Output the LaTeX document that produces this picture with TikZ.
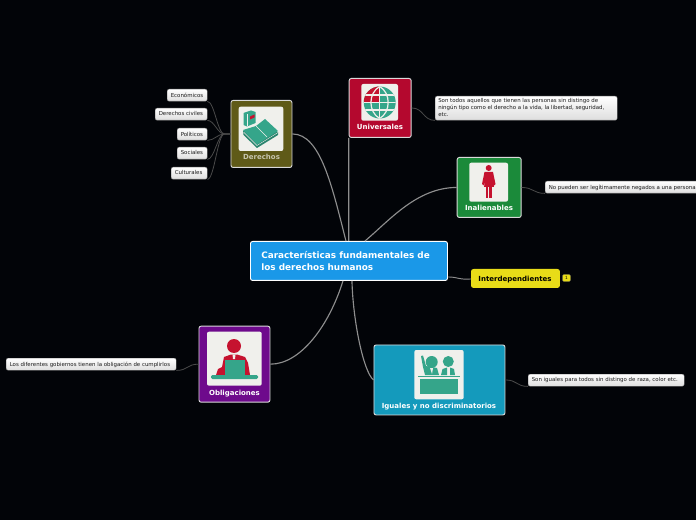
\documentclass[tikz,border=0pt]{standalone}
\usepackage{fontspec}
\setmainfont{DejaVu Sans}
\usetikzlibrary{calc}
\definecolor{bg}{HTML}{020408}
\definecolor{wire}{HTML}{8E8E8E}
\definecolor{wiredk}{HTML}{4A4A4A}
\definecolor{panel}{HTML}{F0F0EC}
\definecolor{teal}{HTML}{35A58A}
\definecolor{redi}{HTML}{C5122F}
\definecolor{cblue}{HTML}{1A98E8}
\definecolor{olive}{HTML}{5F5A18}
\definecolor{crim}{HTML}{B4082E}
\definecolor{grn}{HTML}{1B8A3A}
\definecolor{yel}{HTML}{E8DC18}
\definecolor{purp}{HTML}{6E0A8C}
\definecolor{cyanb}{HTML}{149ABC}
\tikzset{
 box/.style={draw=white!85!black,line width=0.7pt,rounded corners=1.6pt,inner sep=0,anchor=north west},
 boxcap/.style={font=\bfseries\fontsize{5.25}{6.5}\selectfont,text=white,inner sep=0,anchor=base},
 notebox/.style={rounded corners=1.5pt,top color=white,bottom color=black!13,draw=black!45,line width=0.3pt,inner sep=0,anchor=north west},
 notetext/.style={inner sep=0,anchor=north west,text=black!90,font=\fontsize{4.08}{5.25}\selectfont,align=left},
 ipanel/.style={fill=panel,rounded corners=1.5pt},
 bigwire/.style={draw=wire,line width=0.85pt},
 leafwire/.style={draw=wiredk,line width=0.6pt},
}
\begin{document}
\begin{tikzpicture}[x=0.75pt,y=-0.75pt]
\useasboundingbox (0,0) rectangle (696,520);
\fill[bg] (0,0) rectangle (696,520);
\node[box,fill=cblue,draw=white,minimum width=147.75pt,minimum height=29.25pt] (cen) at (250,241) {};
\node[inner sep=0,anchor=west,text=white,font=\bfseries\fontsize{6.66}{9}\selectfont,align=left] (cent) at (261,261) {Características fundamentales de\\los derechos humanos};
\node[box,fill=olive,minimum width=45.75pt,minimum height=50.25pt] (der) at (230.5,100) {};
\node[box,fill=crim,minimum width=46.5pt,minimum height=44.25pt] (uni) at (348.7,78) {};
\node[box,fill=grn,minimum width=48pt,minimum height=45pt] (ina) at (456.7,157) {};
\node[box,fill=yel,draw=yel,minimum width=66pt,minimum height=13.5pt] (int) at (471,269) {};
\node[box,fill=purp,minimum width=53.25pt,minimum height=57pt] (obl) at (198.5,325.7) {};
\node[box,fill=cyanb,minimum width=98.25pt,minimum height=52.5pt] (igu) at (373.5,344.5) {};
\node[boxcap,text=olive!35!white] (derl) at (261.5,160) {Derechos};
\node[boxcap] (unil) at (380,130) {Universales};
\node[boxcap] (inal) at (489,210.5) {Inalienables};
\node[boxcap,text=black] (intl) at (515,281.3) {Interdependientes};
\node[boxcap] (obll) at (234.5,395) {Obligaciones};
\node[boxcap] (igul) at (439,408.5) {Iguales y no discriminatorios};
\node[fill=yel,draw=black!70,line width=0.2pt,rounded corners=1pt,minimum width=6.2pt,minimum height=5.4pt,inner sep=0,font=\fontsize{3.2}{4}\selectfont,text=black] (bad) at (566.5,278) {1};
\node[notebox,minimum width=30pt,minimum height=9pt] (l1) at (167,89) {};
\node[notetext] (t1) at (170.5,92.5) {Económicos};
\node[notebox,minimum width=39pt,minimum height=9pt] (l2) at (155,108) {};
\node[notetext] (t2) at (158.5,111.5) {Derechos civiles};
\node[notebox,minimum width=22.5pt,minimum height=9pt] (l3) at (177,128) {};
\node[notetext] (t3) at (180.5,131.5) {Políticos};
\node[notebox,minimum width=22.5pt,minimum height=9pt] (l4) at (177,147) {};
\node[notetext] (t4) at (180.5,150.5) {Sociales};
\node[notebox,minimum width=27pt,minimum height=9pt] (l5) at (171,167) {};
\node[notetext] (t5) at (174.5,170.5) {Culturales};
\node[notebox,minimum width=136.5pt,minimum height=18pt] (n1) at (435,96) {};
\node[notetext] (t6) at (438,98.5) {Son todos aquellos que tienen las personas sin distingo de\\ningún tipo como el derecho a la vida, la libertad, seguridad,\\etc.};
\node[notebox,minimum width=116pt,minimum height=9pt] (n2) at (545,181) {};
\node[notetext] (t7) at (548.5,184.5) {No pueden ser legítimamente negados a una persona};
\node[notebox,minimum width=127.5pt,minimum height=9pt] (n3) at (6,358) {};
\node[notetext] (t8) at (9.5,361.5) {Los diferentes gobiernos tienen la obligación de cumplirlos};
\node[notebox,minimum width=117pt,minimum height=9pt] (n4) at (528,374) {};
\node[notetext] (t9) at (531.5,377.5) {Son iguales para todos sin distingo de raza, color etc.};
% main connectors
\draw[bigwire] (der.east) .. controls +(28,0) and +(-14,-55) .. ($(cen.north)+(-3,0)$);
\draw[bigwire] (uni.south west) -- ($(cen.north)+(-0.2,0)$);
\draw[bigwire] (ina.west) .. controls +(-40,0) and +(24,-20) .. ($(cen.north)+(16,0)$);
\draw[wire,line width=0.7pt] ($(cen.east)+(0,16)$) .. controls +(10,0) and +(-12,1) .. ($(int.west)+(0,0.5)$);
\draw[bigwire] (obl.east) .. controls +(30,0) and +(-14,45) .. ($(cen.south)+(-6,0)$);
\draw[bigwire] (igu.west) .. controls +(-10,-8) and +(1,40) .. ($(cen.south)+(3,0)$);
% leaf connectors
\foreach \n in {l1,l2,l3,l4,l5}
 \draw[leafwire] (der.west) -- +(-6,0) .. controls +(-7,0) and +(7,0) .. (\n.south east);
\draw[leafwire] (uni.east) .. controls +(12,0) and +(-12,0) .. (n1.south west);
\draw[leafwire] (ina.east) .. controls +(12,0) and +(-12,0) .. (n2.south west);
\draw[leafwire] (obl.west) .. controls +(-12,0) and +(12,0) .. (n3.south east);
\draw[leafwire] (igu.east) .. controls +(12,0) and +(-12,0) .. (n4.south west);
% Derechos icon
\fill[ipanel] (238.7,106.7) rectangle (283.3,151);
\fill[teal] (243.5,113) -- (251,110.5) -- (255.5,112) -- (255.5,123) -- (247,126.5) -- (243.5,125) -- cycle;
\draw[panel,line width=0.3pt] (247,114) -- (247,126);
\fill[redi] (250,116.5) -- (254.5,114.5) -- (254.5,117.5) -- (250,119.5) -- cycle;
\fill[teal!80!black] (243,131) -- (243.5,135) -- (257,148) -- (278,135) -- (278,132) -- cycle;
\fill[teal] (243,130) -- (256,126) -- (265,119) -- (278,131) -- (257,144.5) -- cycle;
\draw[panel,line width=0.3pt] (256,126) -- (267,137);
\draw[panel,line width=0.3pt] (243.5,132) -- (257,145.5) -- (278,132.5);
% globe
\fill[ipanel] (361.3,84) rectangle (398,120.7);
\begin{scope}
\clip (379.7,102.5) circle (16);
\fill[teal] (363,86) rectangle (397,119);
\fill[redi] (363,86) rectangle (380,102.5);
\draw[panel,line width=0.9pt] (363,95) -- (397,95) (363,102.7) -- (397,102.7) (363,110) -- (397,110);
\draw[panel,line width=0.9pt] (379.7,86) -- (379.7,119);
\draw[panel,line width=0.9pt] (379.7,86.5) .. controls (368,93) and (368,112) .. (379.7,118.5);
\draw[panel,line width=0.9pt] (379.7,86.5) .. controls (391,93) and (391,112) .. (379.7,118.5);
\end{scope}
% woman
\fill[ipanel] (469.3,162.7) rectangle (508,201.7);
\fill[redi] (488.7,168) circle (3);
\fill[redi] (484.5,172) -- (493,172) -- (495.5,184) -- (494,185.5) -- (493,181) -- (494,187) -- (484,187) -- (485,181) -- (483.5,185.5) -- (482,184) -- cycle;
\fill[redi] (486,187) rectangle (488.3,198);
\fill[redi] (489.3,187) rectangle (491.6,198);
% person at desk
\fill[ipanel] (207,331.7) rectangle (261.7,385.7);
\fill[redi] (234,346) circle (7);
\fill[redi] (216,375) -- (218,369) -- (222,367) -- (224,357) -- (231,354.5) -- (237,354.5) -- (245,357) -- (248,363) -- (250,375) -- cycle;
\fill[panel] (232.5,354.5) -- (235.5,354.5) -- (235,359) -- (233,359) -- cycle;
\fill[teal] (225,359.5) rectangle (245,375);
\fill[teal,rounded corners=1pt] (211,375) rectangle (258,379);
% two persons
\fill[ipanel] (414.3,350) rectangle (463.7,399.3);
\fill[teal] (431.7,362) circle (6);
\fill[teal] (448.3,361.5) circle (5.5);
\fill[teal] (421,356) -- (423,355.5) -- (426,366) -- (437,368) -- (439,375) -- (425,375) -- (423,367) -- cycle;
\fill[panel] (430,368) -- (433,368) -- (432,374) -- cycle;
\fill[teal] (441,375) -- (442.5,369) -- (447,367.5) -- (447,375) -- cycle;
\fill[teal] (450,375) -- (450,367.5) -- (454,369) -- (455,375) -- cycle;
\draw[teal,line width=0.6pt] (418,376.5) -- (460,376.5);
\fill[teal] (420,379) rectangle (458,394);
\end{tikzpicture}
\end{document}
